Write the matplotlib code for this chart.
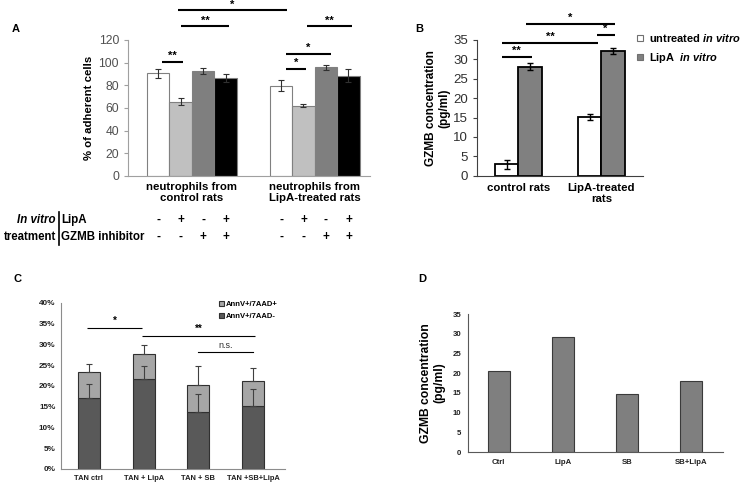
import numpy as np
import matplotlib
matplotlib.use('Agg')
import matplotlib.pyplot as plt
from matplotlib.lines import Line2D

plt.rcParams['font.family'] = 'Liberation Sans'
plt.rcParams['mathtext.fontset'] = 'custom'
plt.rcParams['mathtext.rm'] = 'Liberation Sans:bold'
plt.rcParams['mathtext.bf'] = 'Liberation Sans:bold'
plt.rcParams['mathtext.it'] = 'Liberation Sans:italic:bold'
plt.rcParams['mathtext.bfit'] = 'Liberation Sans:italic:bold'

# Panel A - adhesion
grupos_a = ['neutrophils from\ncontrol rats', 'neutrophils from\nLipA-treated rats']
adesao_ctrl = [90.5, 65.5, 92.5, 86.5]
adesao_lipa = [79.5, 62.0, 96.0, 88.5]
erro_ctrl = [4.3, 3.2, 2.4, 3.2]
erro_lipa = [4.8, 1.5, 2.2, 5.5]
lipa_sinal = ['-', '+', '-', '+']
gzmb_sinal = ['-', '-', '+', '+']
cores_a = ['white', '#c0c0c0', '#7f7f7f', 'black']

# Panel B - GZMB
grupos_b = ['control rats', 'LipA-treated\nrats']
gzmb_untreated = [3.0, 15.2]
gzmb_lipa = [28.1, 32.2]
err_untreated = [1.15, 0.8]
err_lipa = [0.85, 0.7]

# Panel C - apoptosis
grupos_c = ['TAN ctrl', 'TAN + LipA', 'TAN + SB', 'TAN +SB+LipA']
annv_neg = [17.0, 21.8, 13.8, 15.2]
annv_pos = [6.4, 6.0, 6.4, 6.1]
err_neg = [3.4, 3.1, 4.3, 4.1]
err_pos = [1.9, 2.1, 4.7, 3.0]

# Panel D - GZMB
grupos_d = ['Ctrl', 'LipA', 'SB', 'SB+LipA']
gzmb_d = [20.5, 29.1, 14.7, 18.0]

fig = plt.figure(figsize=(7.46, 4.84), dpi=100)

def sig(ax, x1, x2, y, txt, lw=1.5, fs=8, dy=1.5):
    ax.plot([x1, x2], [y, y], color='black', lw=lw, clip_on=False, solid_capstyle='butt')
    ax.text((x1 + x2) / 2, y + dy, txt, ha='center', va='bottom', fontsize=fs,
            fontweight='bold', clip_on=False)

# ---------------- A ----------------
axA = fig.add_axes([0.1716, 0.6364, 0.3244, 0.281])
w = 0.183
pos_a = []
for g, (vals, errs) in enumerate([(adesao_ctrl, erro_ctrl), (adesao_lipa, erro_lipa)]):
    for i in range(4):
        x = g + (i - 1.5) * w
        pos_a.append(x)
        axA.bar(x, vals[i], w, color=cores_a[i], edgecolor='#808080', lw=0.8, zorder=2)
        axA.errorbar(x, vals[i], yerr=errs[i], color='#303030', capsize=2.5, lw=0.8,
                     capthick=0.8, zorder=3)
axA.set_xlim(-0.52, 1.45)
axA.set_ylim(0, 120)
axA.set_yticks(range(0, 121, 20))
axA.tick_params(axis='y', labelsize=8.7, colors='#505050', length=3, color='#a0a0a0')
axA.set_xticks([0, 1])
axA.set_xticklabels(grupos_a, fontsize=8.2, fontweight='bold')
axA.tick_params(axis='x', length=0, pad=4)
for s in ['top', 'right']:
    axA.spines[s].set_visible(False)
for s in ['left', 'bottom']:
    axA.spines[s].set_color('#a0a0a0')
axA.set_ylabel('% of adherent cells', fontsize=8.2, fontweight='bold', labelpad=3)

sig(axA, pos_a[1] - 0.02, pos_a[4] + 0.05, 146.5, '*', dy=0.5)
sig(axA, pos_a[1], pos_a[3] + 0.03, 132.4, '**', dy=0.5)
sig(axA, pos_a[5] + 0.03, pos_a[7] + 0.03, 132.4, '**', dy=0.5)
sig(axA, pos_a[4] + 0.04, pos_a[6] + 0.04, 107.7, '*', dy=1)
sig(axA, pos_a[0] + 0.03, pos_a[1] + 0.02, 100.6, '**', dy=1)
sig(axA, pos_a[4] + 0.04, pos_a[5] + 0.02, 94.4, '*', dy=1)

# tabela de tratamento
tr = axA.get_xaxis_transform()
for x, l, gz in zip(pos_a, lipa_sinal * 2, gzmb_sinal * 2):
    axA.text(x, -0.3235, l, transform=tr, ha='center', va='center', fontsize=8.5, fontweight='bold')
    axA.text(x, -0.4485, gz, transform=tr, ha='center', va='center', fontsize=8.5, fontweight='bold')
fig.text(56 / 746, 1 - 220 / 484, 'In vitro', ha='right', va='center', fontsize=8.3,
         fontweight='bold', fontstyle='italic')
fig.text(56 / 746, 1 - 237 / 484, 'treatment', ha='right', va='center', fontsize=8.3,
         fontweight='bold')
fig.add_artist(Line2D([58.5 / 746, 58.5 / 746], [1 - 212 / 484, 1 - 245 / 484], color='black', lw=1.2))
fig.text(61 / 746, 1 - 220 / 484, 'LipA', ha='left', va='center', fontsize=8.3, fontweight='bold')
fig.text(61 / 746, 1 - 237 / 484, 'GZMB inhibitor', ha='left', va='center', fontsize=8.3,
         fontweight='bold')

# ---------------- B ----------------
axB = fig.add_axes([0.6394, 0.637, 0.2225, 0.2804])
wb = 0.28
xb = np.arange(2)
axB.bar(xb - wb / 2, gzmb_untreated, wb, color='white', edgecolor='black', lw=1.3, zorder=2)
axB.bar(xb + wb / 2, gzmb_lipa, wb, color='#808080', edgecolor='black', lw=1.3, zorder=2)
axB.errorbar(xb - wb / 2, gzmb_untreated, yerr=err_untreated, fmt='none', ecolor='black',
             capsize=2.5, lw=1, capthick=1, zorder=3)
axB.errorbar(xb + wb / 2, gzmb_lipa, yerr=err_lipa, fmt='none', ecolor='black',
             capsize=2.5, lw=1, capthick=1, zorder=3)
axB.set_xlim(-0.5, 1.5)
axB.set_ylim(0, 35)
axB.set_yticks(range(0, 36, 5))
axB.tick_params(axis='y', labelsize=9.5, colors='#303030', length=3, color='#404040')
axB.set_xticks(xb)
axB.set_xticklabels(grupos_b, fontsize=8.2, fontweight='bold')
axB.tick_params(axis='x', length=0, pad=5)
for s in ['top', 'right']:
    axB.spines[s].set_visible(False)
for s in ['left', 'bottom']:
    axB.spines[s].set_color('#404040')
axB.set_ylabel('GZMB concentration\n(pg/ml)', fontsize=8.5, fontweight='bold', labelpad=2)

sig(axB, -wb / 2 - 0.06, wb / 2 + 0.02, 30.5, '**', dy=0.3)
sig(axB, -wb / 2 - 0.06, 1 - wb / 2 + 0.1, 34.1, '**', dy=0.3)
sig(axB, wb / 2 - 0.05, 1 + wb / 2 + 0.02, 39.0, '*', dy=0.3)
sig(axB, 1 - wb / 2 + 0.08, 1 + wb / 2 + 0.02, 36.3, '*', dy=0.3)

hB = [Line2D([], [], marker='s', ls='none', markersize=5, markerfacecolor='white',
             markeredgecolor='#707070', markeredgewidth=0.8),
      Line2D([], [], marker='s', ls='none', markersize=5, markerfacecolor='#808080',
             markeredgecolor='#707070', markeredgewidth=0.8)]
axB.legend(hB, [r'untreated $\mathbfit{in\ vitro}$', r'LipA  $\mathbfit{in\ vitro}$'],
           loc='upper left', bbox_to_anchor=(0.92, 1.09), frameon=False,
           prop={'size': 7.9, 'weight': 'bold'}, handlelength=1.0, handletextpad=0.35,
           labelspacing=0.6, borderaxespad=0)

# ---------------- C ----------------
axC = fig.add_axes([0.0818, 0.031, 0.3003, 0.343])
xc = np.arange(4)
wc = 0.4
axC.bar(xc, annv_neg, wc, color='#595959', edgecolor='#303030', lw=0.8, zorder=2,
        label='AnnV+/7AAD-')
tot = np.array(annv_neg) + np.array(annv_pos)
axC.bar(xc, annv_pos, wc, bottom=annv_neg, color='#a6a6a6', edgecolor='#303030', lw=0.8,
        zorder=2, label='AnnV+/7AAD+')
axC.errorbar(xc, annv_neg, yerr=[np.zeros(4), err_neg], fmt='none', ecolor='#404040',
             capsize=2, lw=0.8, capthick=0.8, zorder=3)
axC.errorbar(xc, tot, yerr=[np.zeros(4), err_pos], fmt='none', ecolor='#404040',
             capsize=2, lw=0.8, capthick=0.8, zorder=3)
axC.set_xlim(-0.51, 3.585)
axC.set_ylim(0, 40)
axC.set_yticks(range(0, 41, 5))
axC.set_yticklabels(['%d%%' % v for v in range(0, 41, 5)])
axC.set_xticks(xc)
axC.set_xticklabels(grupos_c)
for lab in axC.get_xticklabels():
    lab.set_fontweight('bold')
    lab.set_fontsize(5.4)
    lab.set_color('#202020')
for lab in axC.get_yticklabels():
    lab.set_fontweight('bold')
    lab.set_fontsize(5.9)
    lab.set_color('#202020')
axC.tick_params(axis='both', length=0, pad=4)
for s in ['top', 'right']:
    axC.spines[s].set_visible(False)
for s in ['left', 'bottom']:
    axC.spines[s].set_color('#8c8c8c')

sig(axC, -0.04, 0.97, 34.0, '*', lw=0.8, fs=7, dy=0.5)
sig(axC, 0.97, 3.03, 32.0, '**', lw=0.8, fs=7, dy=0.5)
axC.plot([1.99, 3.0], [28.2, 28.2], color='black', lw=0.8, clip_on=False)
axC.text(2.5, 28.7, 'n.s.', ha='center', va='bottom', fontsize=6.5, color='#303030')

hC, lC = axC.get_legend_handles_labels()
axC.legend(hC[::-1], lC[::-1], loc='upper left', bbox_to_anchor=(0.69, 1.03), frameon=False,
           prop={'weight': 'bold', 'size': 5.5}, handlelength=0.7,
           handleheight=0.7, handletextpad=0.2, labelspacing=0.6, borderaxespad=0)

# ---------------- D ----------------
axD = fig.add_axes([0.6273, 0.0661, 0.3418, 0.2851])
xd = np.arange(4)
axD.bar(xd, gzmb_d, 0.34, color='#7f7f7f', edgecolor='#3a3a3a', lw=0.8, zorder=2)
axD.set_xlim(-0.48, 3.5)
axD.set_ylim(0, 35)
axD.set_yticks(range(0, 36, 5))
axD.set_xticks(xd)
axD.set_xticklabels(grupos_d)
for lab in axD.get_xticklabels() + axD.get_yticklabels():
    lab.set_fontweight('bold')
    lab.set_fontsize(5.6)
    lab.set_color('#202020')
axD.tick_params(axis='both', length=0, pad=5)
for s in ['top', 'right']:
    axD.spines[s].set_visible(False)
for s in ['left', 'bottom']:
    axD.spines[s].set_color('#595959')
axD.set_ylabel('GZMB concentration\n(pg/ml)', fontsize=8.7, fontweight='bold', labelpad=5)

# letras dos paineis
for letra, x, y in [('A', 16, 29), ('B', 419, 29), ('C', 17, 279), ('D', 422, 279)]:
    fig.text(x / 746, 1 - y / 484, letra, ha='center', va='center', fontsize=8, fontweight='bold')

plt.savefig('out.png', dpi=100)
